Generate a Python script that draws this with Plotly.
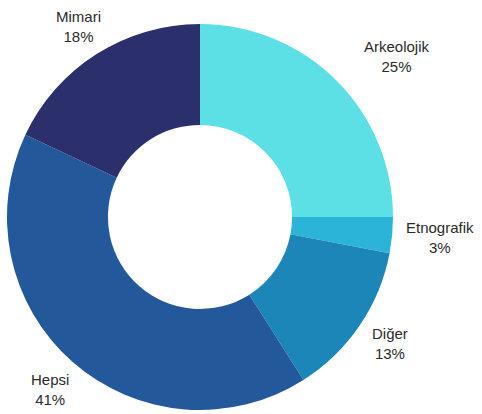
import plotly.graph_objects as go

categories = ["Arkeolojik", "Etnografik", "Diğer", "Hepsi", "Mimari"]
values = [25, 3, 13, 41, 18]

colors = ["#5ce0e6", "#2bb4d8", "#1c86b9", "#23589b", "#2b2f6b"]
# label centre positions in pixels (x, y from top)
label_pos = [(397, 57), (440, 237), (390, 343), (50, 389), (78, 26)]

W, H = 482, 414
fig = go.Figure(go.Pie(
    labels=categories, values=values, hole=0.477, sort=False,
    direction="clockwise", rotation=0, textinfo="none",
    marker=dict(colors=colors, line=dict(width=0)),
    domain=dict(x=[7 / W, 393 / W], y=[1 - 410 / H, 1 - 24 / H]),
    showlegend=False, hoverinfo="label+percent",
))

total = sum(values)
for cat, v, (px, py) in zip(categories, values, label_pos):
    fig.add_annotation(
        x=px / W, y=1 - py / H, xref="paper", yref="paper",
        text=f"{cat}<br>{round(100 * v / total)}%", showarrow=False,
        font=dict(family="Liberation Sans, Arial, sans-serif", size=15, color="#2a2a2a"),
        xanchor="center", yanchor="middle", align="center",
    )

fig.update_layout(width=W, height=H, margin=dict(l=0, r=0, t=0, b=0),
                  paper_bgcolor="white", plot_bgcolor="white")
fig.write_html("out.html", config={"displayModeBar": False},
               post_script="document.body.style.margin='0';document.body.style.padding='0';")
